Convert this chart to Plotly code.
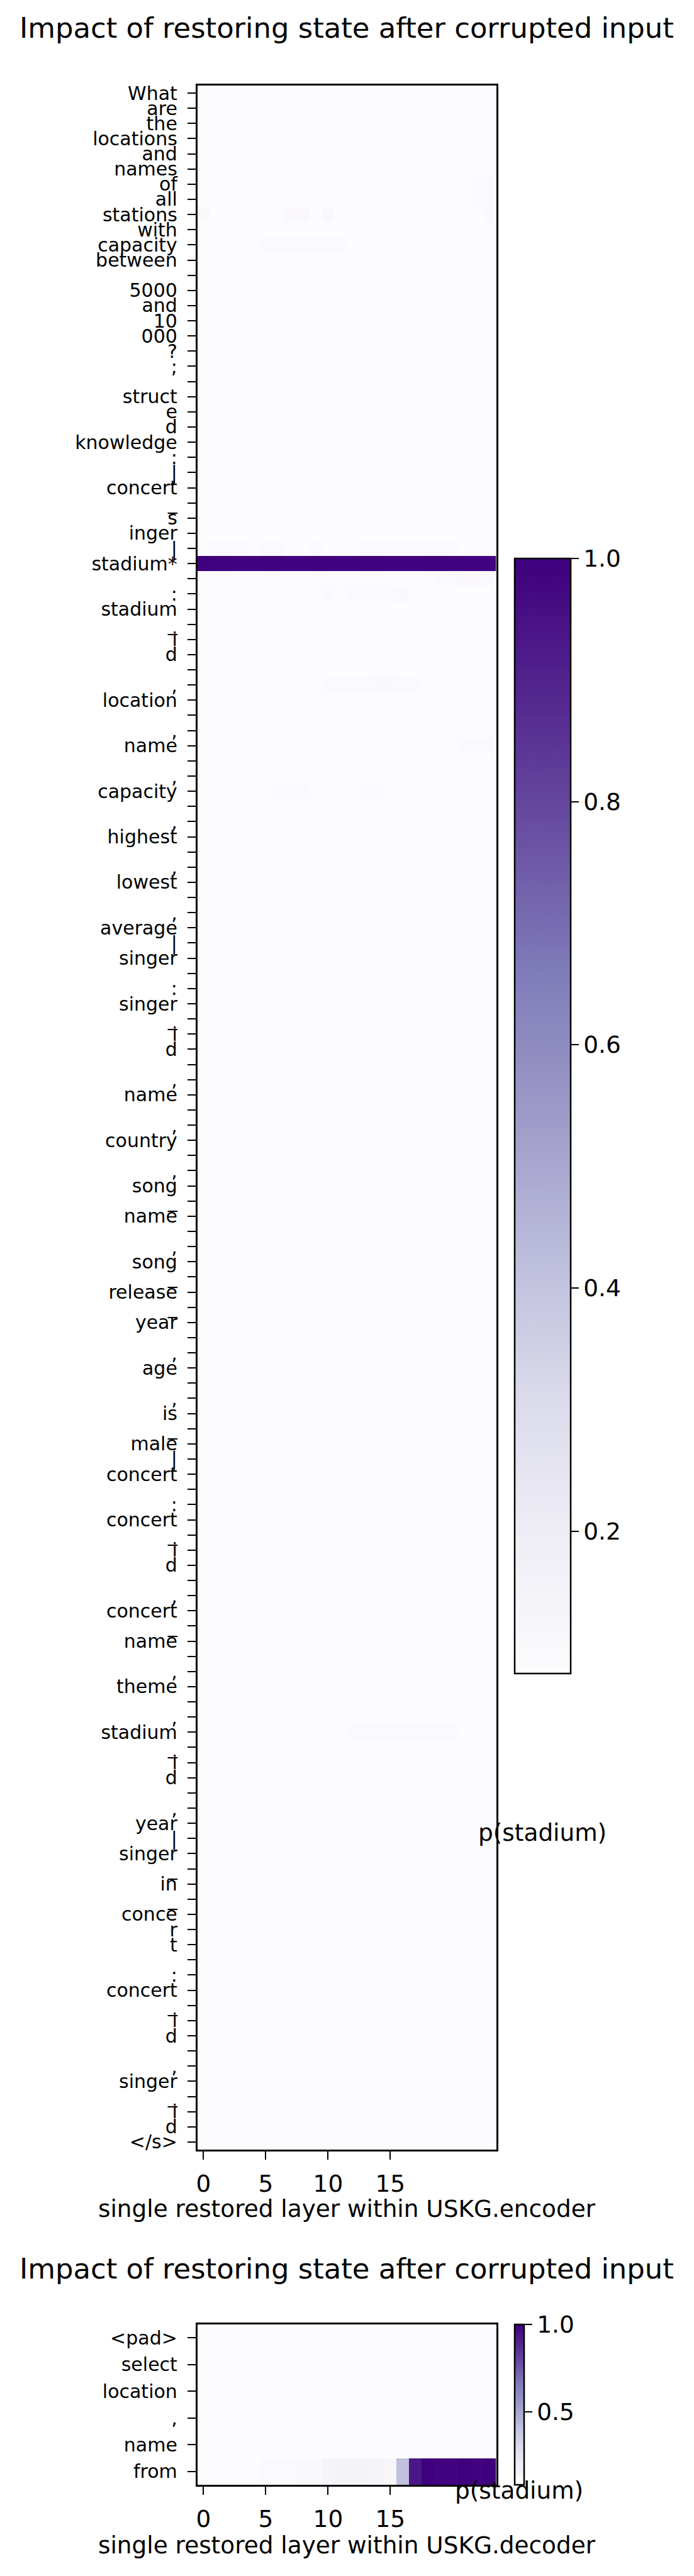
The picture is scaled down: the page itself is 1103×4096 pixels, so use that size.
import plotly.graph_objects as go

# ---------------- data ----------------
enc_tokens = [
    "What", "are", "the", "locations", "and", "names", "of", "all", "stations", "with",
    "capacity", "between", "", "5000", "and", "10", "000", "?", ";", "",
    "struct", "e", "d", "knowledge", ":", "|", "concert", "_", "s", "inger",
    "|", "stadium*", "", ":", "stadium", "_", "i", "d", "", ",",
    "location", "", ",", "name", "", ",", "capacity", "", ",", "highest",
    "", ",", "lowest", "", ",", "average", "|", "singer", "", ":",
    "singer", "_", "i", "d", "", ",", "name", "", ",", "country",
    "", ",", "song", "_", "name", "", ",", "song", "_", "release",
    "_", "year", "", ",", "age", "", ",", "is", "_", "male",
    "|", "concert", "", ":", "concert", "_", "i", "d", "", ",",
    "concert", "_", "name", "", ",", "theme", "", ",", "stadium", "_",
    "i", "d", "", ",", "year", "|", "singer", "_", "in", "_",
    "conce", "r", "t", "", ":", "concert", "_", "i", "d", "",
    ",", "singer", "_", "i", "d", "&lt;/s&gt;",
]
enc_layers = list(range(24))

dec_tokens = ["&lt;pad&gt;", "select", "location", ",", "name", "from"]
dec_layers = list(range(24))

# low level of p(stadium) seen in almost every cell (colour-bar minimum)
floor_value = 0.083

# encoder rows that differ from the floor (row index -> 24 layer values)
enc_rows = {
    6:   [0.083] * 22 + [0.100, 0.100],
    7:   [0.083] * 22 + [0.100, 0.100],
    8:   [0.105, 0.083, 0.083, 0.083, 0.083, 0.083, 0.083, 0.105, 0.105, 0.083, 0.105, 0.083,
          0.083, 0.083, 0.083, 0.083, 0.083, 0.083, 0.083, 0.083, 0.083, 0.083, 0.083, 0.100],
    10:  [0.083, 0.083, 0.083, 0.083, 0.083, 0.097, 0.097, 0.097, 0.097, 0.097, 0.097, 0.097,
          0.083, 0.083, 0.083, 0.083, 0.083, 0.083, 0.083, 0.083, 0.083, 0.083, 0.083, 0.083],
    30:  [0.083, 0.100, 0.100, 0.100, 0.083, 0.100, 0.100, 0.083, 0.083, 0.100, 0.083, 0.083,
          0.083, 0.100, 0.100, 0.100, 0.100, 0.100, 0.100, 0.100, 0.100, 0.083, 0.083, 0.083],
    31:  [1.000, 0.995, 0.995, 0.990, 0.990, 0.995, 0.995, 0.990, 0.990, 0.995, 0.995, 0.990,
          0.990, 0.995, 0.995, 0.990, 0.990, 0.990, 0.995, 0.995, 0.990, 0.995, 0.995, 0.990],
    32:  [0.083] * 19 + [0.100, 0.100, 0.105, 0.105, 0.100],
    33:  [0.083, 0.083, 0.083, 0.083, 0.083, 0.083, 0.083, 0.083, 0.083, 0.083, 0.100, 0.083,
          0.100, 0.100, 0.100, 0.100, 0.105, 0.083, 0.083, 0.083, 0.083, 0.083, 0.083, 0.083],
    39:  [0.083, 0.083, 0.083, 0.083, 0.083, 0.083, 0.083, 0.083, 0.083, 0.083, 0.100, 0.100,
          0.100, 0.100, 0.110, 0.110, 0.100, 0.100, 0.083, 0.083, 0.083, 0.083, 0.083, 0.083],
    43:  [0.083] * 21 + [0.100, 0.100, 0.100],
    46:  [0.083, 0.083, 0.083, 0.083, 0.083, 0.083, 0.100, 0.100, 0.100, 0.083, 0.083, 0.083,
          0.083, 0.100, 0.100, 0.083, 0.083, 0.083, 0.083, 0.083, 0.083, 0.083, 0.083, 0.083],
    108: [0.083, 0.083, 0.083, 0.083, 0.083, 0.083, 0.083, 0.083, 0.083, 0.083, 0.083, 0.083,
          0.100, 0.100, 0.100, 0.100, 0.100, 0.100, 0.100, 0.100, 0.100, 0.083, 0.083, 0.083],
}

# decoder rows
dec_from_row = [0.083, 0.083, 0.083, 0.083, 0.083, 0.100, 0.100, 0.100, 0.110, 0.110, 0.140, 0.150,
                0.150, 0.150, 0.140, 0.130, 0.410, 0.930, 1.000, 0.990, 0.990, 1.000, 0.990, 1.000]

enc_z = [enc_rows.get(r, [floor_value] * len(enc_layers)) for r in range(len(enc_tokens))]
dec_z = [[floor_value] * len(dec_layers) for _ in range(len(dec_tokens) - 1)] + [dec_from_row]

# ---------------- figure ----------------
PAGE_OFF = 8                     # default body margin of the written page
W, H = 1103 - PAGE_OFF, 4096 - PAGE_OFF
FONT = "DejaVu Sans"


def px_x(p):
    return (p - PAGE_OFF) / W


def px_y(p):
    return 1 - (p - PAGE_OFF) / H


YTICK = 30      # token labels (8 pt)
TICK = 37.4     # layer numbers and colour-bar numbers (10 pt)
LABEL = 37.4
TITLE = 44.9

x_dom = [px_x(313.6), px_x(788.5)]

cb_common = dict(
    xanchor="left", xpad=0, yanchor="top", ypad=0,
    lenmode="pixels", thicknessmode="pixels",
    outlinewidth=2.5, outlinecolor="black", tickformat=".1f", tickprefix="\u2004",
    ticks="outside", ticklen=12, tickwidth=1.5, tickcolor="black",
    tickfont=dict(family=FONT, size=TICK, color="black"),
)

fig = go.Figure()
fig.add_trace(go.Heatmap(
    z=enc_z, x=enc_layers, y=list(range(len(enc_tokens))),
    colorscale="Purples", zmin=floor_value, zmax=1.0,
    xaxis="x", yaxis="y",
    colorbar=dict(x=px_x(817.5), y=px_y(888), len=1773, thickness=89,
                  tickvals=[0.2, 0.4, 0.6, 0.8, 1.0], **cb_common),
))
fig.add_trace(go.Heatmap(
    z=dec_z, x=dec_layers, y=list(range(len(dec_tokens))),
    colorscale="Purples", zmin=floor_value, zmax=1.0,
    xaxis="x2", yaxis="y2",
    colorbar=dict(x=px_x(818), y=px_y(3696), len=255, thickness=15,
                  tickvals=[0.5, 1.0], **cb_common),
))

axis_common = dict(
    showline=True, mirror=True, linecolor="black", linewidth=2.5,
    showgrid=False, zeroline=False, ticks="outside", ticklen=13, tickwidth=2,
    tickcolor="black", automargin=False,
)
xfont = dict(family=FONT, size=TICK, color="black")
yfont = dict(family=FONT, size=YTICK, color="black")

fig.update_layout(
    width=W, height=H, margin=dict(l=0, r=0, t=0, b=0),
    paper_bgcolor="white", plot_bgcolor="white",
    font=dict(family=FONT, color="black"),
    xaxis=dict(domain=x_dom, range=[-0.5, 23.5], tickmode="array", tickvals=[0, 5, 10, 15],
               anchor="y", ticklabelstandoff=6, tickfont=xfont, **axis_common),
    yaxis=dict(domain=[px_y(3418), px_y(136)], range=[len(enc_tokens) - 0.5, -0.5],
               tickmode="array", tickvals=list(range(len(enc_tokens))), ticktext=enc_tokens,
               anchor="x", ticklabelstandoff=10, tickfont=yfont, **axis_common),
    xaxis2=dict(domain=x_dom, range=[-0.5, 23.5], tickmode="array", tickvals=[0, 5, 10, 15],
                anchor="y2", ticklabelstandoff=6, tickfont=xfont, **axis_common),
    yaxis2=dict(domain=[px_y(3951), px_y(3696)], range=[len(dec_tokens) - 0.5, -0.5],
                tickmode="array", tickvals=list(range(len(dec_tokens))), ticktext=dec_tokens,
                anchor="x2", ticklabelstandoff=10, tickfont=yfont, **axis_common),
    showlegend=False,
)


def text(s, x, y, size):
    fig.add_annotation(text=s, x=px_x(x), y=px_y(y), xref="paper", yref="paper",
                       xanchor="center", yanchor="middle", showarrow=False,
                       font=dict(family=FONT, size=size, color="black"))


title = "Impact of restoring state after corrupted input"
text(title, 551, 45, TITLE)
text("single restored layer within USKG.encoder", 551, 3512, LABEL)
text("p(stadium)", 862, 2914, LABEL)
text(title, 551, 3607, TITLE)
text("single restored layer within USKG.decoder", 551, 4047, LABEL)
text("p(stadium)", 825, 3960, LABEL)

fig.write_html("out.html")
